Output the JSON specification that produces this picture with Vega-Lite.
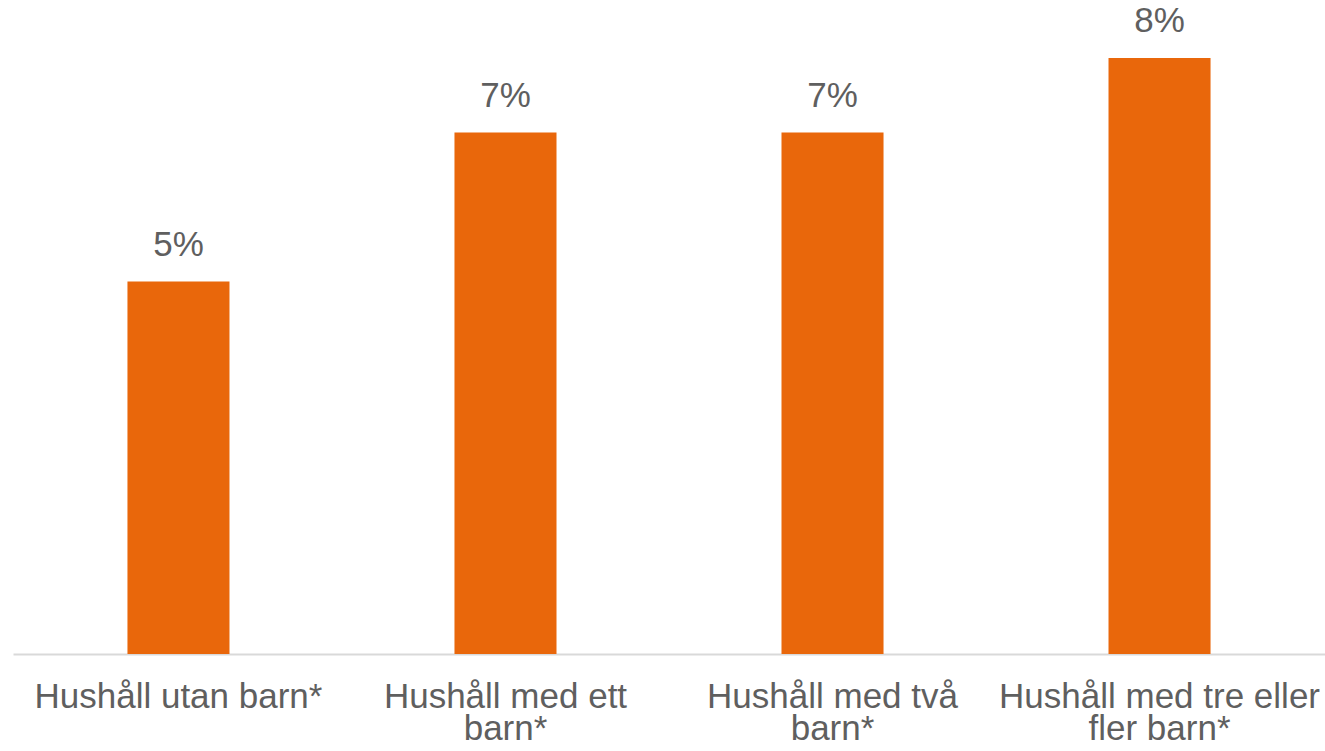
{
  "$schema": "https://vega.github.io/schema/vega-lite/v6.json",
  "width": 1312,
  "height": 596,
  "autosize": {"type": "none"},
  "padding": {"left": 13, "top": 58, "right": 0, "bottom": 97},
  "background": "white",
  "config": {
    "view": {"stroke": null},
    "font": "Liberation Sans"
  },
  "data": {
    "values": [
      {"kategori": "Hushåll utan barn*", "andel": 0.05},
      {"kategori": "Hushåll med ett barn*", "andel": 0.07},
      {"kategori": "Hushåll med två barn*", "andel": 0.07},
      {"kategori": "Hushåll med tre eller fler barn*", "andel": 0.08}
    ]
  },
  "encoding": {
    "x": {
      "field": "kategori",
      "type": "nominal",
      "sort": null,
      "scale": {"paddingInner": 0.688, "paddingOuter": 0.35},
      "axis": {
        "title": null,
        "labelAngle": 0,
        "labelFont": "Liberation Sans",
        "labelFontSize": 35,
        "labelColor": "#5f5f5f",
        "labelPadding": 25,
        "labelLimit": 0,
        "labelLineHeight": 32,
        "labelBaseline": "top",
        "ticks": false,
        "domainColor": "#d9d9d9",
        "domainWidth": 2,
        "labelExpr": "datum.value == 'Hushåll med ett barn*' ? ['Hushåll med ett', 'barn*'] : datum.value == 'Hushåll med två barn*' ? ['Hushåll med två', 'barn*'] : datum.value == 'Hushåll med tre eller fler barn*' ? ['Hushåll med tre eller', 'fler barn*'] : datum.value"
      }
    },
    "y": {
      "field": "andel",
      "type": "quantitative",
      "scale": {"domain": [0, 0.08], "nice": false},
      "axis": null
    }
  },
  "layer": [
    {"mark": {"type": "bar", "color": "#E9670B"}},
    {
      "mark": {"type": "text", "dy": -26, "baseline": "alphabetic", "fontSize": 35, "color": "#5f5f5f", "font": "Liberation Sans"},
      "encoding": {"text": {"field": "andel", "type": "quantitative", "format": ".0%"}}
    }
  ]
}
